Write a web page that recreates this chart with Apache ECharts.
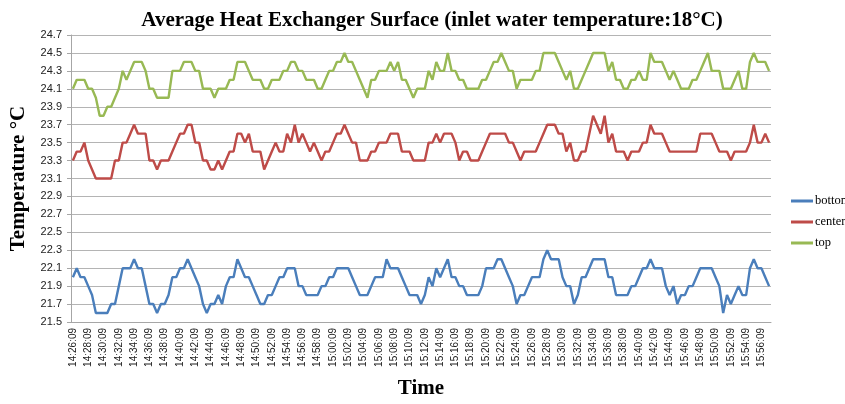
<!DOCTYPE html>
<html>
<head>
<meta charset="utf-8">
<script src="https://cdn.jsdelivr.net/npm/echarts@6/dist/echarts.min.js"></script>
<style>
  html, body { margin: 0; padding: 0; background: #fff; }
  #chart { width: 845px; height: 404px; }
</style>
</head>
<body>
<div id="chart"></div>
<script>
// Sampling: one reading every 30 s starting at 14:26:09
const startTime = '14:26:09';
const sampleCount = 183;
const stepSeconds = 30;

function buildTimes(start, n, step) {
  const p = start.split(':').map(Number);
  let s = p[0] * 3600 + p[1] * 60 + p[2];
  const out = [];
  for (let i = 0; i < n; i++) {
    const h = Math.floor(s / 3600), m = Math.floor((s % 3600) / 60), sec = s % 60;
    out.push(h + ':' + String(m).padStart(2, '0') + ':' + String(sec).padStart(2, '0'));
    s += step;
  }
  return out;
}
const times = buildTimes(startTime, sampleCount, stepSeconds);

// Surface temperatures (°C) at the three measuring heights
const bottomTemps = [
  22.0,22.1,22.0,22.0,21.9,21.8,21.6,21.6,21.6,21.6,
  21.7,21.7,21.9,22.1,22.1,22.1,22.2,22.1,22.1,21.9,
  21.7,21.7,21.6,21.7,21.7,21.8,22.0,22.0,22.1,22.1,
  22.2,22.1,22.0,21.9,21.7,21.6,21.7,21.7,21.8,21.7,
  21.9,22.0,22.0,22.2,22.1,22.0,22.0,21.9,21.8,21.7,
  21.7,21.8,21.8,21.9,22.0,22.0,22.1,22.1,22.1,21.9,
  21.9,21.8,21.8,21.8,21.8,21.9,21.9,22.0,22.0,22.1,
  22.1,22.1,22.1,22.0,21.9,21.8,21.8,21.8,21.9,22.0,
  22.0,22.0,22.2,22.1,22.1,22.1,22.0,21.9,21.8,21.8,
  21.8,21.7,21.8,22.0,21.9,22.1,22.0,22.1,22.2,22.0,
  22.0,21.9,21.9,21.8,21.8,21.8,21.8,21.9,22.1,22.1,
  22.1,22.2,22.2,22.1,22.0,21.9,21.7,21.8,21.8,21.9,
  22.0,22.0,22.0,22.2,22.3,22.2,22.2,22.2,22.0,21.9,
  21.9,21.7,21.8,22.0,22.0,22.1,22.2,22.2,22.2,22.2,
  22.0,22.0,21.8,21.8,21.8,21.8,21.9,21.9,22.0,22.1,
  22.1,22.2,22.1,22.1,22.1,21.9,21.8,21.9,21.7,21.8,
  21.8,21.9,21.9,22.0,22.1,22.1,22.1,22.1,22.0,21.9,
  21.6,21.8,21.7,21.8,21.9,21.8,21.8,22.1,22.2,22.1,
  22.1,22.0,21.9
];
const centerTemps = [
  23.3,23.4,23.4,23.5,23.3,23.2,23.1,23.1,23.1,23.1,
  23.1,23.3,23.3,23.5,23.5,23.6,23.7,23.6,23.6,23.6,
  23.3,23.3,23.2,23.3,23.3,23.3,23.4,23.5,23.6,23.6,
  23.7,23.7,23.5,23.5,23.3,23.3,23.2,23.2,23.3,23.2,
  23.3,23.4,23.4,23.6,23.6,23.5,23.6,23.4,23.4,23.4,
  23.2,23.3,23.4,23.5,23.4,23.4,23.6,23.5,23.7,23.5,
  23.6,23.5,23.4,23.5,23.4,23.3,23.4,23.4,23.5,23.6,
  23.6,23.7,23.6,23.5,23.5,23.3,23.3,23.3,23.4,23.4,
  23.5,23.5,23.5,23.6,23.6,23.6,23.4,23.4,23.4,23.3,
  23.3,23.3,23.3,23.5,23.5,23.6,23.5,23.6,23.6,23.6,
  23.5,23.3,23.4,23.4,23.3,23.3,23.3,23.4,23.5,23.6,
  23.6,23.6,23.6,23.6,23.5,23.5,23.4,23.3,23.4,23.4,
  23.4,23.4,23.5,23.6,23.7,23.7,23.7,23.6,23.6,23.4,
  23.5,23.3,23.3,23.4,23.4,23.6,23.8,23.7,23.6,23.8,
  23.5,23.6,23.4,23.4,23.4,23.3,23.4,23.4,23.4,23.5,
  23.5,23.7,23.6,23.6,23.6,23.5,23.4,23.4,23.4,23.4,
  23.4,23.4,23.4,23.4,23.6,23.6,23.6,23.6,23.5,23.4,
  23.4,23.4,23.3,23.4,23.4,23.4,23.4,23.5,23.7,23.5,
  23.5,23.6,23.5
];
const topTemps = [
  24.1,24.2,24.2,24.2,24.1,24.1,24.0,23.8,23.8,23.9,
  23.9,24.0,24.1,24.3,24.2,24.3,24.4,24.4,24.4,24.3,
  24.1,24.1,24.0,24.0,24.0,24.0,24.3,24.3,24.3,24.4,
  24.4,24.4,24.3,24.3,24.1,24.1,24.1,24.0,24.1,24.1,
  24.1,24.2,24.2,24.4,24.4,24.4,24.3,24.2,24.2,24.2,
  24.1,24.1,24.2,24.2,24.2,24.3,24.3,24.4,24.4,24.3,
  24.3,24.2,24.2,24.2,24.1,24.1,24.2,24.3,24.3,24.4,
  24.4,24.5,24.4,24.4,24.3,24.2,24.1,24.0,24.2,24.2,
  24.3,24.3,24.3,24.4,24.3,24.4,24.2,24.2,24.1,24.0,
  24.1,24.1,24.1,24.3,24.2,24.4,24.3,24.3,24.5,24.3,
  24.3,24.2,24.2,24.1,24.1,24.1,24.1,24.2,24.2,24.3,
  24.4,24.4,24.5,24.4,24.3,24.3,24.1,24.2,24.2,24.2,
  24.2,24.3,24.3,24.5,24.5,24.5,24.5,24.4,24.3,24.2,
  24.3,24.1,24.1,24.2,24.3,24.4,24.5,24.5,24.5,24.5,
  24.3,24.4,24.2,24.2,24.1,24.1,24.2,24.2,24.3,24.2,
  24.2,24.5,24.4,24.4,24.4,24.3,24.2,24.3,24.2,24.1,
  24.1,24.1,24.2,24.2,24.3,24.4,24.5,24.3,24.3,24.3,
  24.1,24.1,24.1,24.2,24.3,24.1,24.1,24.4,24.5,24.4,
  24.4,24.4,24.3
];

// Axis range
const yMin = 21.5, yMax = 24.7, yStep = 0.2;

const serif = '"Liberation Serif", "Times New Roman", serif';
const sans = '"Liberation Sans", Arial, sans-serif';

const chart = echarts.init(document.getElementById('chart'), null, { renderer: 'canvas' });

function lineSeries(name, data, color) {
  return {
    name: name,
    type: 'line',
    data: data,
    symbol: 'none',
    showSymbol: false,
    animation: false,
    lineStyle: { color: color, width: 2.4 },
    itemStyle: { color: color }
  };
}

chart.setOption({
  animation: false,
  backgroundColor: '#ffffff',
  title: {
    text: 'Average Heat Exchanger Surface (inlet water temperature:18\u00B0C)',
    left: 427,
    textAlign: 'center',
    top: 5,
    textStyle: { fontFamily: serif, fontWeight: 'bold', fontSize: 21, color: '#000' }
  },
  legend: {
    orient: 'vertical',
    left: 786,
    top: 189,
    icon: 'rect',
    itemWidth: 22,
    itemHeight: 3,
    itemGap: 7,
    textStyle: { fontFamily: serif, fontSize: 12.5, color: '#000', lineHeight: 14, padding: [0, 0, 0, -3] },
    data: ['bottom', 'center', 'top']
  },
  grid: { left: 67, right: 74, top: 35, bottom: 76, containLabel: false },
  xAxis: {
    type: 'category',
    data: times,
    boundaryGap: true,
    name: 'Time',
    nameLocation: 'middle',
    nameGap: 56,
    nameTextStyle: { fontFamily: serif, fontWeight: 'bold', fontSize: 21, color: '#000' },
    axisLine: { show: true, lineStyle: { color: '#a6a6a6', width: 1 } },
    axisTick: { show: false },
    axisLabel: {
      interval: 3,
      rotate: 90,
      margin: 6,
      fontFamily: sans,
      fontSize: 10,
      color: '#222'
    },
    splitLine: { show: false }
  },
  yAxis: {
    type: 'value',
    min: yMin,
    max: yMax,
    interval: yStep,
    name: 'Temperature \u00B0C',
    nameLocation: 'middle',
    nameRotate: 90,
    nameGap: 42,
    nameTextStyle: { fontFamily: serif, fontWeight: 'bold', fontSize: 21, color: '#000' },
    axisLine: { show: true, lineStyle: { color: '#a6a6a6', width: 1 } },
    axisTick: { show: true, length: 4, lineStyle: { color: '#a6a6a6' } },
    axisLabel: {
      margin: 9,
      fontFamily: sans,
      fontSize: 11,
      color: '#222',
      formatter: v => v.toFixed(1)
    },
    splitLine: { show: true, lineStyle: { color: '#b4b4b4', width: 1 } }
  },
  series: [
    lineSeries('bottom', bottomTemps, '#4a7ebb'),
    lineSeries('center', centerTemps, '#be4b48'),
    lineSeries('top', topTemps, '#98b954')
  ]
});
</script>
</body>
</html>
